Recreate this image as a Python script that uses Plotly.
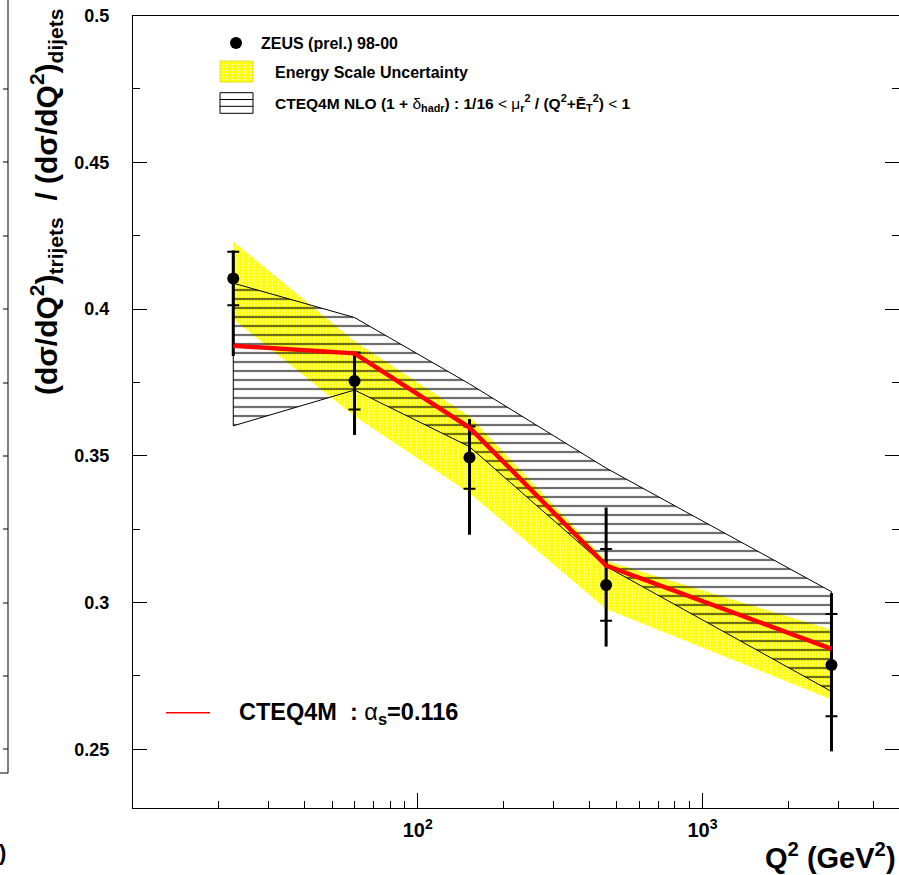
import numpy as np
import plotly.graph_objects as go

# ---------------- data ----------------
q2 = [22.5, 60.0, 152.0, 459.0, 2840.0]                 # Q^2 (GeV^2)
ratio = [0.4104, 0.3755, 0.3494, 0.3060, 0.2787]         # ZEUS (prel.) 98-00
stat_err = [0.0091, 0.0097, 0.0106, 0.0122, 0.0174]      # inner (statistical) error
tot_up = [0.0095, 0.0097, 0.0131, 0.0264, 0.0245]        # total error, upward
tot_dn = [0.0264, 0.0184, 0.0263, 0.0210, 0.0294]        # total error, downward
escale_hi = [0.4230, 0.3890, 0.3635, 0.3142, 0.2907]     # energy scale band upper
escale_lo = [0.3965, 0.3635, 0.3373, 0.2978, 0.2670]     # energy scale band lower
nlo_hi = [0.4088, 0.3971, 0.3745, 0.3458, 0.3037]       # CTEQ4M NLO scale band upper
nlo_lo = [0.3602, 0.3724, 0.3531, 0.3123, 0.2697]       # CTEQ4M NLO scale band lower
nlo_central = [0.3875, 0.3849, 0.3596, 0.3126, 0.2842]  # CTEQ4M alpha_s=0.116

y_ticks = [0.25, 0.30, 0.35, 0.40, 0.45, 0.50]
y_ticktext = ["0.25", "0.3", "0.35", "0.4", "0.45", "0.5"]
y_minor = [0.275, 0.325, 0.375, 0.425, 0.475]
x_ticks = [100, 1000]
x_ticktext = ["10<sup>2</sup>", "10<sup>3</sup>"]
x_minor = [20, 30, 40, 50, 60, 70, 80, 90, 200, 300, 400, 500, 600, 700, 800, 900,
           2000, 3000, 4000]

# ---------------- layout geometry ----------------
W, H = 899, 875
PL, PR, PT, PB = 133, 899, 15.5, 808   # plot frame in pixels
FONT = "Liberation Sans, Arial, Helvetica, sans-serif"

YELLOW_PATTERN = dict(shape=".", size=3, solidity=0.2, fgcolor="white",
                      bgcolor="#ffff00", fillmode="replace")

fig = go.Figure()

# energy scale uncertainty band (yellow mesh)
fig.add_trace(go.Scatter(
    x=q2 + q2[::-1], y=escale_hi + escale_lo[::-1],
    fill="toself", mode="lines", line=dict(width=0, color="rgba(0,0,0,0)"),
    fillcolor="#ffff00", fillpattern=YELLOW_PATTERN,
    hoverinfo="skip", showlegend=False))

# NLO scale band (horizontal hatching)
fig.add_trace(go.Scatter(
    x=q2 + q2[::-1] + [q2[0]], y=nlo_hi + nlo_lo[::-1] + [nlo_hi[0]],
    fill="toself", mode="lines", line=dict(width=1, color="black"),
    fillcolor="rgba(255,255,255,0)",
    fillpattern=dict(shape="-", size=9, solidity=0.14, fgcolor="black",
                     bgcolor="rgba(255,255,255,0)", fillmode="replace"),
    hoverinfo="skip", showlegend=False))

# total error bars (no caps)
fig.add_trace(go.Scatter(
    x=q2, y=ratio, mode="markers",
    marker=dict(size=1, color="rgba(0,0,0,0)"),
    error_y=dict(type="data", symmetric=False, array=tot_up, arrayminus=tot_dn,
                 width=0, thickness=3, color="black"),
    hoverinfo="skip", showlegend=False))

# statistical error (caps)
fig.add_trace(go.Scatter(
    x=q2, y=ratio, mode="markers",
    marker=dict(size=1, color="rgba(0,0,0,0)"),
    error_y=dict(type="data", array=stat_err, width=6, thickness=2, color="black"),
    hoverinfo="skip", showlegend=False))

# CTEQ4M central prediction
fig.add_trace(go.Scatter(
    x=q2, y=nlo_central, mode="lines", line=dict(color="#ff0000", width=4.5),
    hoverinfo="skip", showlegend=False))

# data points
fig.add_trace(go.Scatter(
    x=q2, y=ratio, mode="markers",
    marker=dict(size=12, color="black", symbol="circle"),
    showlegend=False))

# ---------------- pixel overlay for legend swatches ----------------
fig.add_trace(go.Scatter(x=[236], y=[43], mode="markers", xaxis="x2", yaxis="y2",
                         marker=dict(size=12, color="black"), hoverinfo="skip",
                         showlegend=False))
fig.add_trace(go.Scatter(x=[220, 253, 253, 220, 220], y=[61, 61, 82, 82, 61],
                         xaxis="x2", yaxis="y2", fill="toself", mode="lines",
                         line=dict(width=0.8, color="#d8d800"),
                         fillcolor="#ffff00", fillpattern=YELLOW_PATTERN,
                         hoverinfo="skip", showlegend=False))
fig.add_trace(go.Scatter(x=[220, 253, 253, 220, 220], y=[92.7, 92.7, 113.3, 113.3, 92.7],
                         xaxis="x2", yaxis="y2", mode="lines",
                         line=dict(width=1, color="black"),
                         hoverinfo="skip", showlegend=False))
for yy in (99.5, 106.3):
    fig.add_trace(go.Scatter(x=[220, 253], y=[yy, yy], xaxis="x2", yaxis="y2",
                             mode="lines", line=dict(width=1, color="black"),
                             hoverinfo="skip", showlegend=False))
fig.add_trace(go.Scatter(x=[166, 210], y=[712.7, 712.7], xaxis="x2", yaxis="y2",
                         mode="lines", line=dict(width=1.5, color="#ff0000"),
                         hoverinfo="skip", showlegend=False))
# fragment of the neighbouring panel at the far left (frame edge with small ticks)
frag_x, frag_y = [8, 8, 0], [0, 773, 773]
for ty in (89, 162, 236, 309, 383, 456, 529, 603, 676, 749):
    frag_x += [None, 3, 8]
    frag_y += [None, ty, ty]
fig.add_trace(go.Scatter(x=frag_x, y=frag_y, xaxis="x2", yaxis="y2", mode="lines",
                         line=dict(width=1, color="black"), hoverinfo="skip",
                         connectgaps=False, showlegend=False))

annotations = [
    dict(text="<b>ZEUS (prel.) 98-00</b>", x=259, y=43, font=dict(size=16)),
    dict(text="<b>Energy Scale Uncertainty</b>", x=273, y=72, font=dict(size=16)),
    dict(text="<b>CTEQ4M NLO (1 + </b>δ<b><sub>hadr</sub>) : 1/16 </b>&lt;<b> </b>μ"
              "<b><sub>r</sub><sup>2</sup> / (Q<sup>2</sup>+Ē<sub>T</sub><sup>2</sup>) </b>&lt;<b> 1</b>",
         x=273, y=103, font=dict(size=15.5)),
    dict(text="<b>CTEQ4M&nbsp;&nbsp;: </b>α<b><sub>s</sub>=0.116</b>", x=237, y=713,
         font=dict(size=23.5)),
]
for a in annotations:
    a.update(xref="x2", yref="y2", xanchor="left", yanchor="middle", showarrow=False,
             font=dict(size=a["font"]["size"], color="black", family=FONT))

annotations.append(dict(
    text="<b>(dσ/dQ<sup>2</sup>)<sub>trijets</sub>&nbsp;&nbsp;/ (dσ/dQ<sup>2</sup>)<sub>dijets</sub></b>",
    x=46, y=202, xref="x2", yref="y2", textangle=-90, showarrow=False,
    xanchor="center", yanchor="middle", font=dict(size=30, color="black", family=FONT)))
annotations.append(dict(
    text="<b>Q<sup>2</sup> (GeV<sup>2</sup>)</b>", x=898, y=856, xref="x2", yref="y2",
    showarrow=False, xanchor="right", yanchor="middle",
    font=dict(size=29, color="black", family=FONT)))
annotations.append(dict(
    text="<b>)</b>", x=8, y=852, xref="x2", yref="y2",
    showarrow=False, xanchor="right", yanchor="middle",
    font=dict(size=22, color="black", family=FONT)))

fig.update_layout(
    width=W, height=H,
    margin=dict(l=0, r=0, t=0, b=0, pad=0, autoexpand=False),
    paper_bgcolor="white", plot_bgcolor="rgba(0,0,0,0)",
    font=dict(family=FONT, color="black"),
    showlegend=False,
    annotations=annotations,
    xaxis=dict(
        type="log", range=[1, 3.6905],
        domain=[PL / W, PR / W],
        showgrid=False, zeroline=False,
        showline=True, linecolor="black", linewidth=1, mirror=True,
        tickmode="array", tickvals=x_ticks, ticktext=x_ticktext,
        ticks="inside", ticklen=15, tickwidth=1, tickcolor="black",
        minor=dict(tickmode="array", tickvals=x_minor, ticks="inside", ticklen=7,
                   tickwidth=1, tickcolor="black", showgrid=False),
        tickfont=dict(size=20, family=FONT, color="black", weight="bold"),
        ticklabelstandoff=4,
    ),
    yaxis=dict(
        range=[0.23, 0.5],
        domain=[(H - PB) / H, (H - PT) / H],
        showgrid=False, zeroline=False,
        showline=True, linecolor="black", linewidth=1, mirror="ticks",
        tickmode="array", tickvals=y_ticks, ticktext=y_ticktext,
        ticks="inside", ticklen=14, tickwidth=1, tickcolor="black",
        minor=dict(tickmode="array", tickvals=y_minor, ticks="inside", ticklen=7,
                   tickwidth=1, tickcolor="black", showgrid=False),
        tickfont=dict(size=18, family=FONT, color="black", weight="bold"),
        ticklabelstandoff=19,
    ),
    xaxis2=dict(domain=[0, 1], range=[0, W], visible=False, fixedrange=True,
                anchor="y2"),
    yaxis2=dict(domain=[0, 1], range=[H, 0], visible=False, fixedrange=True,
                anchor="x2"),
)

fig.write_html("out.html", config={"displayModeBar": False},
               post_script="document.body.style.margin='0px';"
                           "document.body.style.overflow='hidden';")
